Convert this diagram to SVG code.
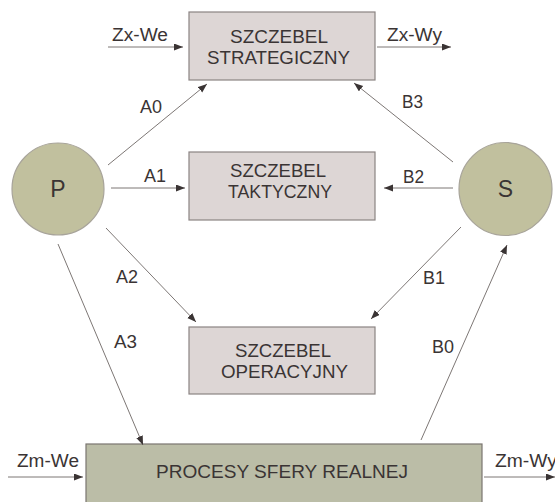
<svg xmlns="http://www.w3.org/2000/svg" width="555" height="502" viewBox="0 0 555 502">
  <defs>
    <marker id="arrow" markerUnits="userSpaceOnUse" markerWidth="10" markerHeight="8" refX="9" refY="3.5" orient="auto">
      <path d="M0,0 L9,3.5 L0,7 z" fill="#3a3434"/>
    </marker>
    <style>
      .level { fill: #ddd6d5; stroke: #8b8483; stroke-width: 1.2; }
      .actor { fill: #c1c09e; stroke: #a8a49a; stroke-width: 1.2; }
      .real { fill: #bbbda7; stroke: #7a7570; stroke-width: 1.2; }
      .t { font-family: "Liberation Sans", Arial, sans-serif; font-size: 17.5px; fill: #3a3434; }
      .big { font-size: 23px; }
      .link { stroke: #7d7775; stroke-width: 1; fill: none; marker-end: url(#arrow); }
    </style>
  </defs>
  <rect width="555" height="502" fill="#ffffff"/>

  <g id="strategic">
    <rect class="level" x="189" y="12" width="186" height="68"/>
    <text class="t" x="230" y="43" textLength="98" lengthAdjust="spacingAndGlyphs">SZCZEBEL</text>
    <text class="t" x="207" y="64" textLength="143" lengthAdjust="spacingAndGlyphs">STRATEGICZNY</text>
  </g>

  <g id="tactical">
    <rect class="level" x="189" y="152" width="186" height="68"/>
    <text class="t" x="230" y="177" textLength="96" lengthAdjust="spacingAndGlyphs">SZCZEBEL</text>
    <text class="t" x="228" y="198" textLength="104" lengthAdjust="spacingAndGlyphs">TAKTYCZNY</text>
  </g>

  <g id="operational">
    <rect class="level" x="189" y="327" width="186" height="67"/>
    <text class="t" x="235" y="357" textLength="96" lengthAdjust="spacingAndGlyphs">SZCZEBEL</text>
    <text class="t" x="221" y="378" textLength="127" lengthAdjust="spacingAndGlyphs">OPERACYJNY</text>
  </g>

  <g id="real-processes">
    <rect class="real" x="86" y="444" width="396" height="62"/>
    <text class="t" x="156" y="478" textLength="252" lengthAdjust="spacingAndGlyphs">PROCESY SFERY REALNEJ</text>
  </g>

  <g id="P">
    <circle class="actor" cx="58" cy="189" r="46"/>
    <text class="t big" x="58" y="197" text-anchor="middle">P</text>
  </g>

  <g id="S">
    <circle class="actor" cx="505.5" cy="189" r="46.5"/>
    <text class="t big" x="505.5" y="197" text-anchor="middle">S</text>
  </g>

  <g id="connectors">
    <line class="link" x1="108" y1="47" x2="183" y2="47"/>
    <line class="link" x1="377" y1="47" x2="451" y2="47"/>
    <line class="link" x1="108" y1="165" x2="207" y2="84"/>
    <line class="link" x1="111" y1="188" x2="185" y2="188"/>
    <line class="link" x1="453" y1="162" x2="354" y2="83"/>
    <line class="link" x1="453" y1="188" x2="384" y2="188"/>
    <line class="link" x1="106" y1="228" x2="196" y2="322"/>
    <line class="link" x1="58" y1="244" x2="143" y2="445"/>
    <line class="link" x1="461" y1="227" x2="371" y2="319"/>
    <line class="link" x1="421" y1="440" x2="507" y2="245"/>
    <line class="link" x1="8" y1="477" x2="83" y2="477"/>
    <line class="link" x1="484" y1="477" x2="555" y2="477"/>

    <text class="t" x="112" y="41" textLength="56" lengthAdjust="spacingAndGlyphs">Zx-We</text>
    <text class="t" x="387" y="41" textLength="55" lengthAdjust="spacingAndGlyphs">Zx-Wy</text>
    <text class="t" x="140" y="113" textLength="22" lengthAdjust="spacingAndGlyphs">A0</text>
    <text class="t" x="144" y="182" textLength="22" lengthAdjust="spacingAndGlyphs">A1</text>
    <text class="t" x="402" y="108" textLength="21" lengthAdjust="spacingAndGlyphs">B3</text>
    <text class="t" x="403" y="183" textLength="21" lengthAdjust="spacingAndGlyphs">B2</text>
    <text class="t" x="116" y="283" textLength="22" lengthAdjust="spacingAndGlyphs">A2</text>
    <text class="t" x="114" y="348" textLength="23" lengthAdjust="spacingAndGlyphs">A3</text>
    <text class="t" x="423" y="284" textLength="22" lengthAdjust="spacingAndGlyphs">B1</text>
    <text class="t" x="432" y="353" textLength="22" lengthAdjust="spacingAndGlyphs">B0</text>
    <text class="t" x="17" y="467" textLength="62" lengthAdjust="spacingAndGlyphs">Zm-We</text>
    <text class="t" x="495" y="467" textLength="62" lengthAdjust="spacingAndGlyphs">Zm-Wy</text>
  </g>
</svg>
